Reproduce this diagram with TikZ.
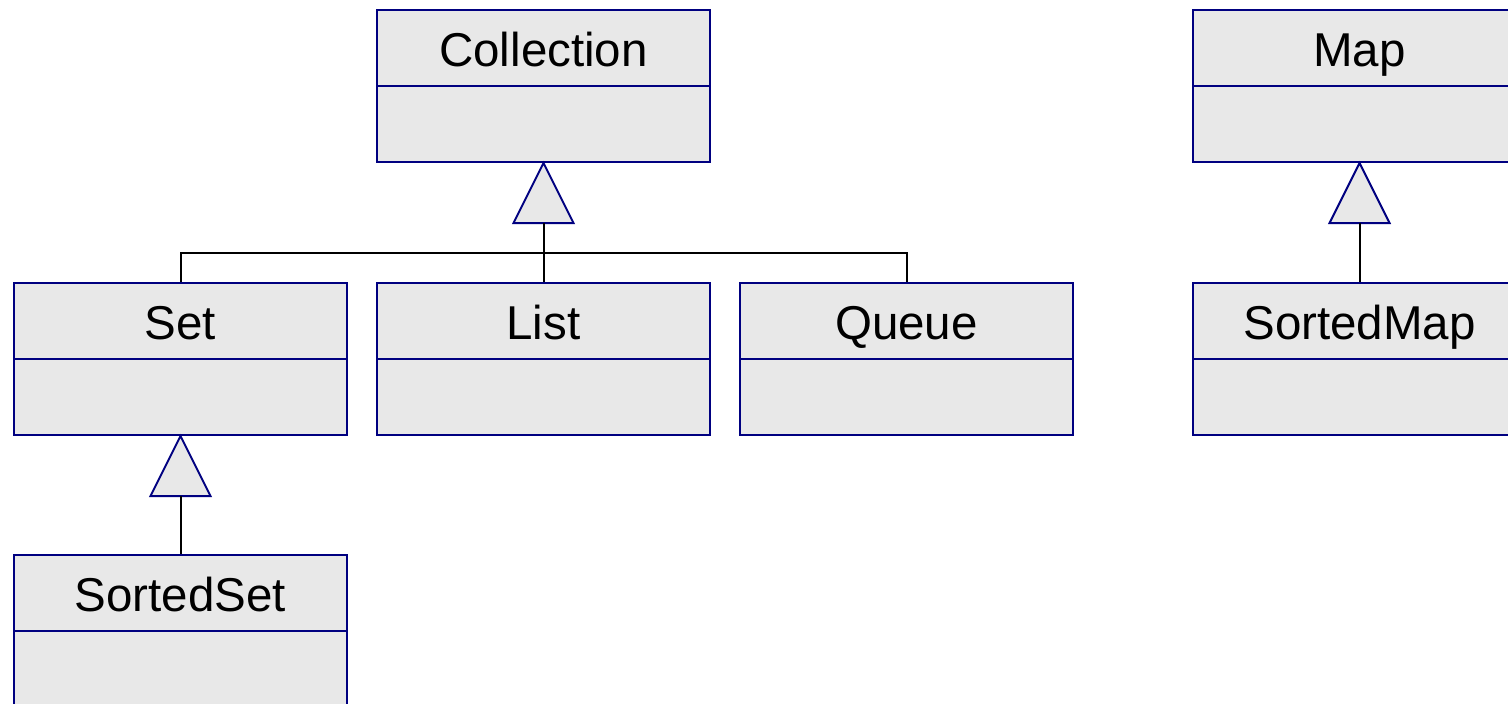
\documentclass[tikz,border=0pt]{standalone}
\usepackage{fontspec}
\setmainfont{Liberation Sans}
\usetikzlibrary{calc}
\definecolor{umlnavy}{RGB}{0,0,128}
\definecolor{umlfill}{RGB}{232,232,232}
\tikzset{
  classbox/.style={draw=umlnavy, fill=umlfill, line width=2pt, minimum width=333pt, minimum height=152pt, inner sep=0pt, rectangle},
  classname/.style={anchor=base, inner sep=0pt, font=\fontsize{47.5}{57}\selectfont},
  divider/.style={draw=umlnavy, line width=1.6pt},
  gentri/.style={draw=umlnavy, fill=umlfill, line width=2pt, line join=miter},
  conn/.style={draw=black, line width=2pt},
}
% \umlbox{name}{cx}{cy}{text}
\newcommand\umlbox[4]{%
  \node[classbox] (#1) at (#2,#3) {};
  \node[classname] (#1T) at ($(#1.north)+(0,57)$) {#4};
  \draw[divider] ($(#1.north west)+(0,77)$) -- ($(#1.north east)+(0,77)$);
}
% \umltri{parent}
\newcommand\umltri[1]{%
  \draw[gentri] (#1.south) -- ++(30,60) -- ++(-60,0) -- cycle;
  \coordinate (#1B) at ($(#1.south)+(0,60)$);
}
\begin{document}
\begin{tikzpicture}[x=1pt,y=-1pt]
\useasboundingbox (0,0) rectangle (1508,704);
\clip (0,0) rectangle (1508,704);
\umlbox{coll}{543.5}{86}{Collection}
\umlbox{set}{180.5}{359}{Set}
\umlbox{list}{543.5}{359}{List}
\umlbox{queue}{906.5}{359}{Queue}
\umlbox{sset}{180.5}{631}{SortedSet}
\umlbox{map}{1359.5}{86}{Map}
\umlbox{smap}{1359.5}{359}{SortedMap}
\umltri{coll}
\umltri{set}
\umltri{map}
\coordinate (bus) at (543.5,253);
\draw[conn] (collB) -- (bus);
\draw[conn] (set.north) |- (bus) -| (queue.north);
\draw[conn] (list.north) -- (bus);
\draw[conn] (setB) -- (sset.north);
\draw[conn] (mapB) -- (smap.north);
\end{tikzpicture}
\end{document}
